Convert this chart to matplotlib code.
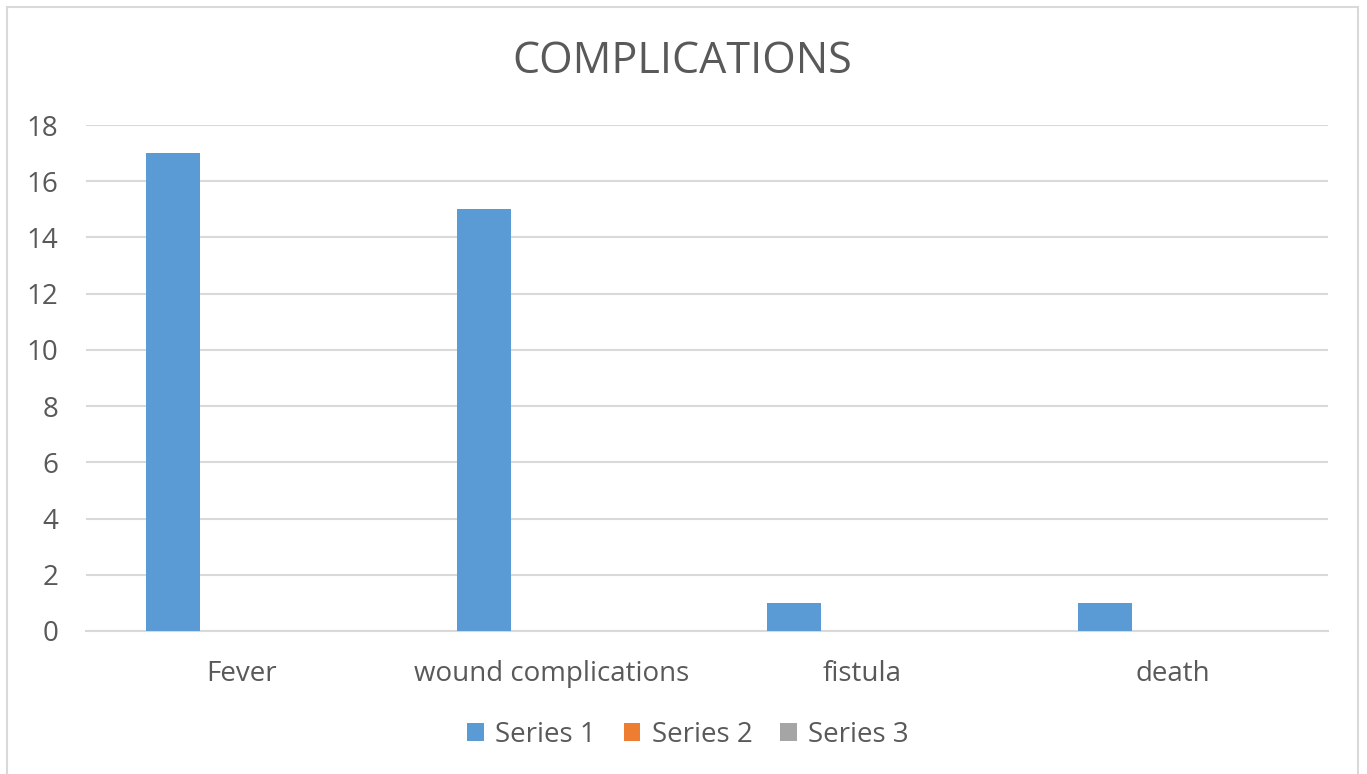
import matplotlib.pyplot as plt
import numpy as np
from matplotlib.patches import Rectangle

# complications counts per category
categories = ['Fever', 'wound complications', 'fistula', 'death']
series_1 = [17, 15, 1, 1]
series_2 = [0, 0, 0, 0]
series_3 = [0, 0, 0, 0]
series_names = ['Series 1', 'Series 2', 'Series 3']
colors = ['#5B9BD5', '#ED7D31', '#A5A5A5']

text_color = '#595959'
grid_color = '#D9D9D9'

plt.rcParams['font.family'] = ['Open Sans', 'DejaVu Sans']

fig = plt.figure(figsize=(13.67, 7.74), dpi=100)
ax = fig.add_axes([0.0629, 0.1848, 0.9086, 0.6537])

# outer chart frame
fig.patches.append(Rectangle((7 / 1367, -0.01), 1351 / 1367, 1 - 7 / 774 + 0.01,
                             transform=fig.transFigure, fill=False,
                             edgecolor=grid_color, linewidth=1.5))

x = np.arange(len(categories))
width = 0.174
step = 0.219
for k, vals in enumerate([series_1, series_2, series_3]):
    ax.bar(x + (k - 1) * step, vals, width, color=colors[k], label=series_names[k], zorder=3)

ax.set_xlim(-0.5, len(categories) - 0.5)
ax.set_ylim(0, 18)
ax.set_yticks(np.arange(0, 19, 2))
ax.set_xticks(x)
ax.set_xticklabels(categories)
ax.tick_params(axis='both', length=0, labelsize=20, colors=text_color)
ax.tick_params(axis='x', pad=21)
ax.tick_params(axis='y', pad=20)
ax.grid(axis='y', color=grid_color, linewidth=1.5, zorder=0)
for side in ['top', 'right', 'left']:
    ax.spines[side].set_visible(False)
ax.spines['bottom'].set_color(grid_color)
ax.spines['bottom'].set_linewidth(1.5)

fig.text(0.5 - 1 / 1367, 1 - 62 / 774, 'COMPLICATIONS', ha='center', va='center',
         fontsize=31, color=text_color)

leg = ax.legend(loc='center', bbox_to_anchor=(688 / 1367, (774 - 735) / 774), bbox_transform=fig.transFigure,
                ncol=3, frameon=False, fontsize=20, handlelength=0.6, handleheight=0.6,
                handletextpad=0.4, columnspacing=1.0)
for t in leg.get_texts():
    t.set_color(text_color)

fig.savefig('out.png', dpi=100)
